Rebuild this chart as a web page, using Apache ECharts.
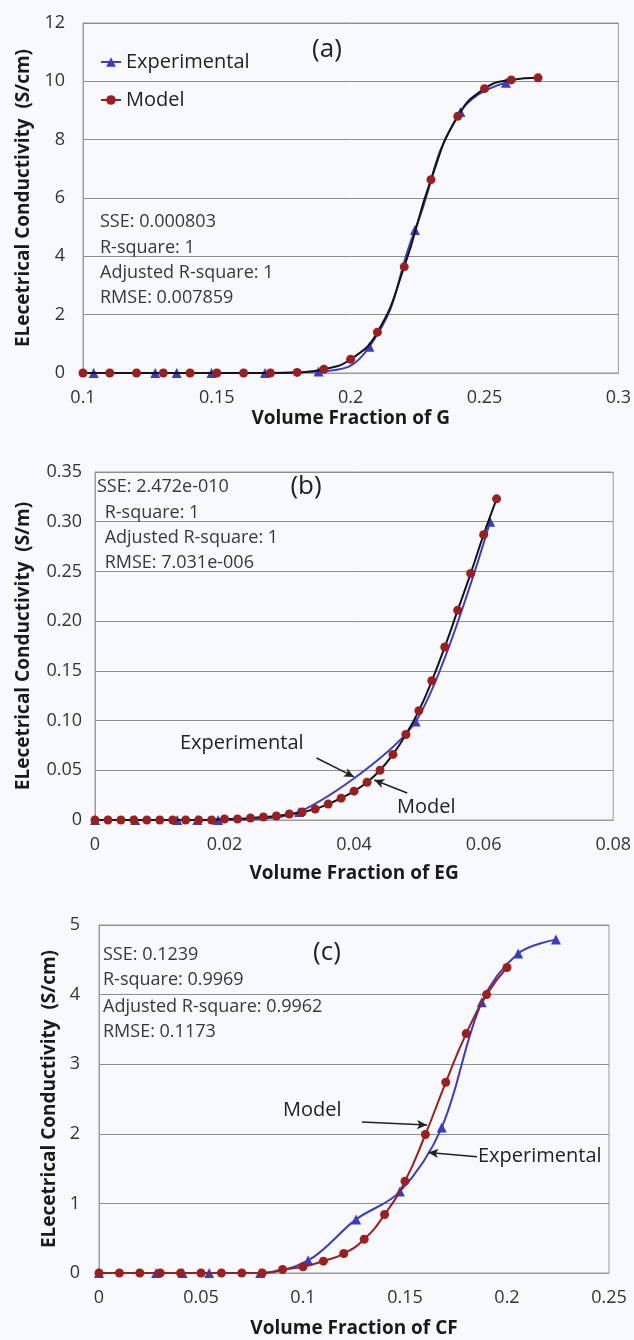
<!DOCTYPE html>
<html>
<head>
<meta charset="utf-8">
<script src="https://cdn.jsdelivr.net/npm/echarts@6/dist/echarts.min.js"></script>
<style>
  html, body { margin: 0; padding: 0; background: #f8f9fc; }
  #chart { width: 634px; height: 1340px; }
</style>
</head>
<body>
<div id="chart"></div>
<script>
  // ---- panel (a): volume fraction of G ----
  const modelAX = [0.10, 0.11, 0.12, 0.13, 0.14, 0.15, 0.16, 0.17, 0.18, 0.19, 0.20, 0.21, 0.22, 0.23, 0.24, 0.25, 0.26, 0.27];
  const modelAY = [0, 0, 0, 0, 0, 0, 0, 0, 0.02, 0.13, 0.47, 1.4, 3.64, 6.63, 8.8, 9.75, 10.05, 10.12];
  const expAX = [0.104, 0.127, 0.135, 0.148, 0.168, 0.188, 0.207, 0.224, 0.241, 0.258];
  const expAY = [0, 0, 0, 0, 0, 0.05, 0.9, 4.9, 8.95, 9.95];
  const xTicksA = ["0.1", "0.15", "0.2", "0.25", "0.3"];
  const yTicksA = ["0", "2", "4", "6", "8", "10", "12"];
  const statsA = ["SSE: 0.000803", "R-square: 1", "Adjusted R-square: 1", "RMSE: 0.007859"];

  // ---- panel (b): volume fraction of EG ----
  const modelBX = [0, 0.002, 0.004, 0.006, 0.008, 0.010, 0.012, 0.014, 0.016, 0.018, 0.020, 0.022, 0.024, 0.026, 0.028, 0.030,
    0.032, 0.034, 0.036, 0.038, 0.040, 0.042, 0.044, 0.046, 0.048, 0.050, 0.052, 0.054, 0.056, 0.058, 0.060, 0.062];
  const modelBY = [0, 0, 0, 0, 0, 0, 0, 0, 0, 0, 0.001, 0.001, 0.002, 0.003, 0.004, 0.006,
    0.008, 0.011, 0.016, 0.022, 0.029, 0.038, 0.050, 0.066, 0.086, 0.110, 0.140, 0.174, 0.211, 0.248, 0.287, 0.323];
  const expBX = [0, 0.0062, 0.0127, 0.0158, 0.019, 0.0315, 0.0495, 0.061];
  const expBY = [0, 0, 0, 0, 0, 0.008, 0.099, 0.300];
  const xTicksB = ["0", "0.02", "0.04", "0.06", "0.08"];
  const yTicksB = ["0", "0.05", "0.10", "0.15", "0.20", "0.25", "0.30", "0.35"];
  const statsB = ["SSE: 2.472e-010", " R-square: 1", " Adjusted R-square: 1", " RMSE: 7.031e-006"];
  const arrowExpB = [[0.0342, 0.0624], [0.0400, 0.0433]];
  const arrowModelB = [[0.0482, 0.0272], [0.0431, 0.0402]];

  // ---- panel (c): volume fraction of CF ----
  const modelCX = [0, 0.01, 0.02, 0.03, 0.04, 0.05, 0.06, 0.07, 0.08, 0.09, 0.10, 0.11, 0.12, 0.13, 0.14, 0.15, 0.16, 0.17, 0.18, 0.19, 0.20];
  const modelCY = [0, 0, 0, 0, 0, 0, 0, 0, 0, 0.05, 0.09, 0.17, 0.28, 0.485, 0.84, 1.32, 1.99, 2.74, 3.44, 4.0, 4.39];
  const expCX = [0, 0.028, 0.041, 0.054, 0.079, 0.1025, 0.126, 0.1475, 0.168, 0.1876, 0.2055, 0.224];
  const expCY = [0, 0, 0, 0, 0, 0.18, 0.77, 1.17, 2.09, 3.89, 4.59, 4.79];
  const xTicksC = ["0", "0.05", "0.1", "0.15", "0.2", "0.25"];
  const yTicksC = ["0", "1", "2", "3", "4", "5"];
  const statsC = ["SSE: 0.1239", "R-square: 0.9969", "Adjusted R-square: 0.9962", "RMSE: 0.1173"];
  const arrowModelC = [[0.1289, 2.17], [0.1608, 2.125]];
  const arrowExpC = [[0.1853, 1.67], [0.1614, 1.73]];

  const BLUE = "#3b3bc4";
  const RED = "#9c1f1f";
  const BLACK = "#141414";
  const GRID_LINE = "#8e8e8e";
  const BORDER = "#9c9c9c";
  const FONT = '"Open Sans", "Liberation Sans", sans-serif';

  const zip = (xs, ys) => xs.map((x, i) => [x, ys[i]]);

  function xAxis(idx, min, max, step, ticks, name, gap) {
    return {
      type: "value", gridIndex: idx, min, max, interval: step,
      name, nameLocation: "middle", nameGap: gap,
      nameTextStyle: { fontFamily: FONT, fontSize: 19, fontWeight: "bold", color: "#1a1a1a" },
      axisLine: { show: true, onZero: false, lineStyle: { color: BORDER } },
      axisTick: { show: false },
      splitLine: { show: false },
      axisLabel: {
        margin: 16, fontFamily: FONT, fontSize: 18, color: "#333",
        formatter: (v) => ticks[Math.round((v - min) / step)],
      },
    };
  }

  function yAxis(idx, max, step, ticks, name, gap, labelMargin) {
    return {
      type: "value", gridIndex: idx, min: 0, max, interval: step,
      name, nameLocation: "middle", nameGap: gap,
      nameTextStyle: { fontFamily: FONT, fontSize: 19, fontWeight: "bold", color: "#1a1a1a" },
      axisLine: { show: true, lineStyle: { color: BORDER } },
      axisTick: { show: false },
      splitLine: { show: true, lineStyle: { color: GRID_LINE, width: 1 } },
      axisLabel: {
        margin: labelMargin, fontFamily: FONT, fontSize: 18, color: "#333",
        formatter: (v) => ticks[Math.round(v / step)],
      },
    };
  }

  function expSeries(idx, xs, ys, smooth) {
    return {
      name: "Experimental", type: "line", xAxisIndex: idx, yAxisIndex: idx,
      data: zip(xs, ys), smooth,
      symbol: "triangle", symbolSize: 10,
      itemStyle: { color: BLUE }, lineStyle: { color: BLUE, width: 2 }, z: 2,
    };
  }

  function modelSeries(idx, xs, ys, lineColor) {
    return {
      name: "Model", type: "line", xAxisIndex: idx, yAxisIndex: idx,
      data: zip(xs, ys), smooth: 0.5,
      symbol: "circle", symbolSize: 9,
      itemStyle: { color: RED }, lineStyle: { color: lineColor, width: 2 }, z: 3,
    };
  }

  function arrows(pairs) {
    return {
      silent: true, symbol: ["none", "arrow"], symbolSize: [7, 10],
      lineStyle: { color: "#222", width: 1.5, type: "solid" },
      label: { show: false },
      data: pairs.map((p) => [{ coord: p[0] }, { coord: p[1] }]),
    };
  }

  function text(str, x, y, size, opts) {
    opts = opts || {};
    return {
      type: "text", x, y, z: 100,
      style: {
        text: str, fill: opts.color || "#333",
        font: (opts.weight || "normal") + " " + size + "px " + FONT,
        align: opts.align || "left", verticalAlign: "middle",
        textAlign: opts.align || "left", textVerticalAlign: "middle",
      },
    };
  }

  function statsBlock(lines, x, ys) {
    return lines.map((s, i) => text(s, x, ys[i], 18, { color: "#383838" }));
  }

  const series = [
    expSeries(0, expAX, expAY, 0.5),
    modelSeries(0, modelAX, modelAY, BLACK),
    expSeries(1, expBX, expBY, 0.25),
    Object.assign(modelSeries(1, modelBX, modelBY, BLACK), { markLine: arrows([arrowExpB, arrowModelB]) }),
    expSeries(2, expCX, expCY, 0.35),
    Object.assign(modelSeries(2, modelCX, modelCY, RED), { markLine: arrows([arrowModelC, arrowExpC]) }),
  ];

  const graphic = [].concat(
    [text("(a)", 327, 50, 26, { align: "center", color: "#222" })],
    statsBlock(statsA, 100, [222, 248, 273, 298]),
    [text("(b)", 306, 487, 26, { align: "center", color: "#222" })],
    [text(statsB[0], 97, 487, 18, { color: "#383838" })],
    statsBlock(statsB.slice(1), 100, [513, 538, 563]),
    [text("Experimental", 180, 743, 20, { color: "#222" })],
    [text("Model", 397, 807, 20, { color: "#222" })],
    [text("(c)", 327, 953, 26, { align: "center", color: "#222" })],
    statsBlock(statsC, 103, [955, 980, 1007, 1032]),
    [text("Model", 283, 1110, 20, { color: "#222" })],
    [text("Experimental", 478, 1156, 20, { color: "#222" })]
  );

  const chart = echarts.init(document.getElementById("chart"), null, { renderer: "canvas" });
  chart.setOption({
    animation: false,
    backgroundColor: "#f8f9fc",
    textStyle: { fontFamily: FONT },
    grid: [
      { left: 83, top: 23, right: 13, height: 350, show: true, borderColor: BORDER, borderWidth: 1 },
      { left: 95, top: 472, right: 18, height: 348, show: true, borderColor: BORDER, borderWidth: 1 },
      { left: 99, top: 925, right: 25, height: 348, show: true, borderColor: BORDER, borderWidth: 1 },
    ],
    legend: {
      orient: "vertical", left: 95, top: 45, itemGap: 14,
      itemWidth: 20, itemHeight: 12,
      textStyle: { fontFamily: FONT, fontSize: 20, color: "#222", lineHeight: 24 },
      data: [
        { name: "Experimental" },
        { name: "Model", lineStyle: { color: RED } },
      ],
    },
    xAxis: [
      xAxis(0, 0.1, 0.3, 0.05, xTicksA, "Volume Fraction of G", 36),
      xAxis(1, 0, 0.08, 0.02, xTicksB, "Volume Fraction of EG", 44),
      xAxis(2, 0, 0.25, 0.05, xTicksC, "Volume Fraction of CF", 46),
    ],
    yAxis: [
      yAxis(0, 12, 2, yTicksA, "ELecetrical Conductivity  (S/cm)", 50, 18),
      yAxis(1, 0.35, 0.05, yTicksB, "ELecetrical Conductivity  (S/m)", 62, 13),
      yAxis(2, 5, 1, yTicksC, "ELecetrical Conductivity  (S/cm)", 37, 19),
    ],
    series,
    graphic,
  });
</script>
</body>
</html>
